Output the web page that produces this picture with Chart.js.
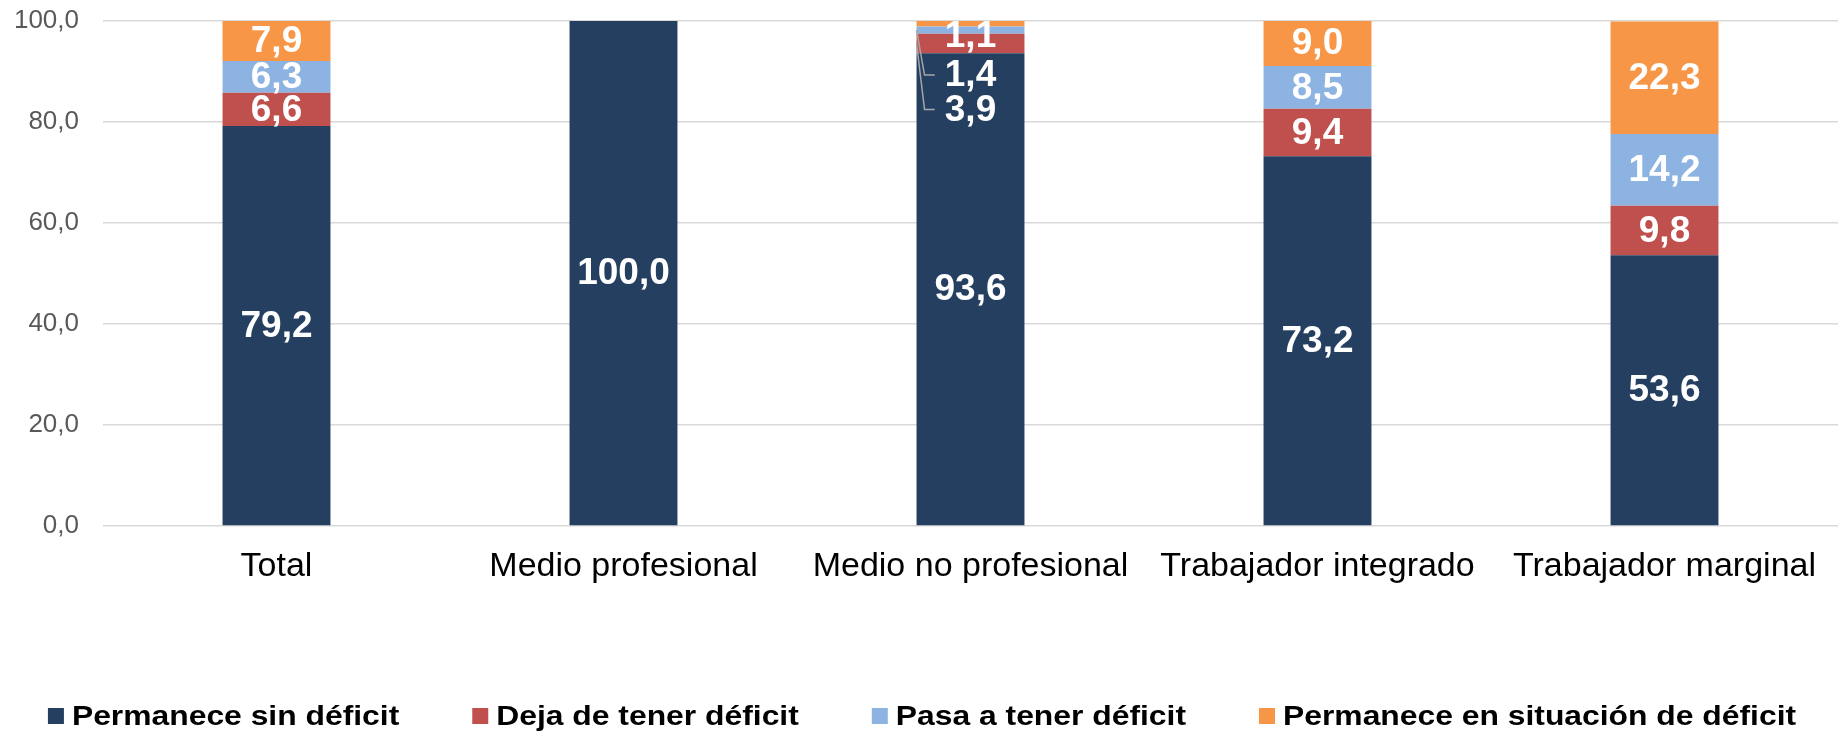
<!DOCTYPE html>
<html>
<head>
<meta charset="utf-8">
<script src="https://cdn.jsdelivr.net/npm/chart.js@4.4.0/dist/chart.umd.min.js"></script>
<style>
    html, body { margin: 0; padding: 0; background: #fff; }
    #wrap { width: 1844px; height: 732px; position: relative; }
</style>
</head>
<body>
<div id="wrap"><canvas id="deficitChart"></canvas></div>
<script>
// Datos del gráfico
const categories = ['Total', 'Medio profesional', 'Medio no profesional', 'Trabajador integrado', 'Trabajador marginal'];
const seriesNames = ['Permanece sin déficit', 'Deja de tener déficit', 'Pasa a tener déficit', 'Permanece en situación de déficit'];
const sinDeficit = [79.2, 100.0, 93.6, 73.2, 53.6];
const dejaDeficit = [6.6, 0, 3.9, 9.4, 9.8];
const pasaDeficit = [6.3, 0, 1.4, 8.5, 14.2];
const enDeficit = [7.9, 0, 1.1, 9.0, 22.3];
const yTicks = [0, 20, 40, 60, 80, 100];

const colors = ['#243F60', '#C0504D', '#8DB3E2', '#F79646'];
const FONT = '"Liberation Sans", Arial, sans-serif';

// Formato con coma decimal
const fmt = v => v.toFixed(1).replace('.', ',');

// Etiquetas desplazadas en "Medio no profesional" (índice 2): px hacia abajo y línea guía
const labelShift = {
    2: {
        1: { dy: 66, leader: true },
        2: { dy: 45, leader: true },
        3: { dy: 12, leader: false }
    }
};

// Plugin para dibujar los valores dentro de las barras
const valueLabels = {
    id: 'valueLabels',
    afterDatasetsDraw(chart) {
        const ctx = chart.ctx;
        ctx.save();
        ctx.font = 'bold 37px ' + FONT;
        ctx.textAlign = 'center';
        ctx.textBaseline = 'middle';
        chart.data.datasets.forEach((ds, i) => {
            const meta = chart.getDatasetMeta(i);
            meta.data.forEach((bar, j) => {
                const value = ds.data[j];
                if (!value) return;
                const { x, y, base, width } = bar.getProps(['x', 'y', 'base', 'width'], true);
                let cy = (y + base) / 2;
                const shift = labelShift[j] && labelShift[j][i];
                if (shift) {
                    const ty = cy + shift.dy;
                    if (shift.leader) {
                        const tw = ctx.measureText(fmt(value)).width;
                        const left = x - width / 2;
                        ctx.strokeStyle = '#A6A6A6';
                        ctx.lineWidth = 1.5;
                        ctx.beginPath();
                        ctx.moveTo(left, cy);
                        ctx.lineTo(left + 8, ty);
                        ctx.lineTo(x - tw / 2 - 10, ty);
                        ctx.stroke();
                    }
                    cy = ty;
                }
                ctx.fillStyle = '#FFFFFF';
                ctx.fillText(fmt(value), x, cy + 1);
            });
        });
        ctx.restore();
    }
};

// Plugin para la leyenda inferior (texto algo ensanchado como en el original)
const bottomLegend = {
    id: 'bottomLegend',
    afterDraw(chart) {
        const ctx = chart.ctx;
        const box = 16, gap = 8, itemGap = 73, stretch = 1.137, cy = 716;
        ctx.save();
        ctx.font = 'bold 28px ' + FONT;
        ctx.textBaseline = 'middle';
        ctx.textAlign = 'left';
        const widths = chart.data.datasets.map(ds => ctx.measureText(ds.label).width * stretch);
        const total = widths.reduce((a, b) => a + b, 0) + widths.length * (box + gap) + (widths.length - 1) * itemGap;
        let x = (chart.width - total) / 2;
        chart.data.datasets.forEach((ds, i) => {
            ctx.fillStyle = ds.backgroundColor;
            ctx.fillRect(x, cy - box / 2, box, box);
            x += box + gap;
            ctx.save();
            ctx.translate(x, cy);
            ctx.scale(stretch, 1);
            ctx.fillStyle = '#000000';
            ctx.fillText(ds.label, 0, 1);
            ctx.restore();
            x += widths[i] + itemGap;
        });
        ctx.restore();
    }
};

const seriesData = [sinDeficit, dejaDeficit, pasaDeficit, enDeficit];

const chart = new Chart(document.getElementById('deficitChart').getContext('2d'), {
    type: 'bar',
    data: {
        labels: categories,
        datasets: seriesNames.map((name, i) => ({
            label: name,
            data: seriesData[i],
            backgroundColor: colors[i],
            borderWidth: 0,
            barPercentage: 0.311,
            categoryPercentage: 1
        }))
    },
    options: {
        responsive: true,
        maintainAspectRatio: false,
        animation: false,
        layout: {
            padding: { left: 14, right: 6, top: 21, bottom: 145 }
        },
        plugins: {
            legend: { display: false },
            tooltip: { enabled: false }
        },
        scales: {
            x: {
                stacked: true,
                grid: { display: false, drawTicks: false },
                border: { display: false },
                ticks: {
                    color: '#000000',
                    padding: 20,
                    font: { family: FONT, size: 34 }
                },
                afterFit: axis => {
                    axis.height = 61;
                    axis.paddingLeft = 0;
                    axis.paddingRight = 0;
                }
            },
            y: {
                stacked: true,
                min: 0,
                max: 100,
                afterBuildTicks: axis => { axis.ticks = yTicks.map(v => ({ value: v })); },
                grid: { color: '#D9D9D9', lineWidth: 1.5, drawTicks: false },
                border: { display: false },
                ticks: {
                    color: '#595959',
                    padding: 24,
                    font: { family: FONT, size: 26 },
                    callback: v => fmt(v)
                },
                afterFit: axis => {
                    axis.width = 89;
                    axis.paddingTop = 0;
                    axis.paddingBottom = 0;
                }
            }
        }
    },
    plugins: [valueLabels, bottomLegend]
});
</script>
</body>
</html>
